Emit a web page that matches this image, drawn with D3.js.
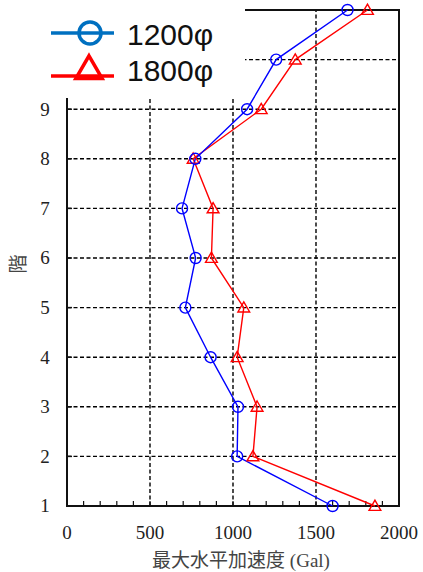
<!DOCTYPE html>
<html>
<head>
  <meta charset="utf-8">
  <script src="https://d3js.org/d3.v7.min.js"></script>
  <style>
    body { margin: 0; background: #fff; }
    .tick-label { font-family: "Liberation Serif", "DejaVu Serif", serif; font-size: 19px; fill: #222; }
    .axis-title { font-family: "Liberation Serif", "Noto Sans CJK JP", serif; font-size: 19px; fill: #444; }
    .legend-text { font-family: "Liberation Sans", Arial, sans-serif; font-size: 30px; fill: #111; }
  </style>
</head>
<body>
<script>
  // floors (階) and peak horizontal acceleration (Gal)
  var floors = [1, 2, 3, 4, 5, 6, 7, 8, 9, 10, 11];
  var accel1200 = [1600, 1025, 1030, 865, 713, 775, 693, 773, 1085, 1260, 1690];
  var accel1800 = [1855, 1120, 1145, 1025, 1065, 870, 880, 760, 1170, 1375, 1810];
  var floorLabels = [1, 2, 3, 4, 5, 6, 7, 8, 9];
  var xTicks = [0, 500, 1000, 1500, 2000];
  var seriesNames = ["1200\u03c6", "1800\u03c6"];

  var width = 423, height = 572;

  var x = d3.scaleLinear().domain([0, 2000]).range([67, 399]);
  var y = d3.scaleLinear().domain([1, 11]).range([506, 10]);

  var svg = d3.select("body").append("svg")
    .attr("width", width)
    .attr("height", height);

  // dashed grid
  var grid = svg.append("g")
    .attr("stroke", "#000")
    .attr("stroke-width", 1.4)
    .attr("stroke-dasharray", "4,2.5");

  grid.selectAll("line.h")
    .data(floors.slice(1))
    .enter().append("line")
    .attr("x1", x(0)).attr("x2", x(2000))
    .attr("y1", function(d) { return y(d); })
    .attr("y2", function(d) { return y(d); });

  grid.selectAll("line.v")
    .data([500, 1000, 1500])
    .enter().append("line")
    .attr("x1", function(d) { return x(d); })
    .attr("x2", function(d) { return x(d); })
    .attr("y1", y(1)).attr("y2", y(11));

  // minor ticks on x axis (inward)
  svg.append("g").selectAll("line")
    .data(d3.range(100, 2000, 100))
    .enter().append("line")
    .attr("x1", function(d) { return x(d); })
    .attr("x2", function(d) { return x(d); })
    .attr("y1", y(1)).attr("y2", y(1) - 5)
    .attr("stroke", "#111").attr("stroke-width", 1.2);

  // floor ticks on y axis (inward)
  svg.append("g").selectAll("line")
    .data(floorLabels)
    .enter().append("line")
    .attr("x1", x(0)).attr("x2", x(0) + 5)
    .attr("y1", function(d) { return y(d); })
    .attr("y2", function(d) { return y(d); })
    .attr("stroke", "#111").attr("stroke-width", 1.5);

  // frame
  svg.append("rect")
    .attr("x", x(0)).attr("y", y(11))
    .attr("width", x(2000) - x(0))
    .attr("height", y(1) - y(11))
    .attr("fill", "none")
    .attr("stroke", "#111")
    .attr("stroke-width", 2);

  // legend box hides top-left corner
  svg.append("rect")
    .attr("x", 0).attr("y", 0)
    .attr("width", 245).attr("height", 98)
    .attr("fill", "#fff");

  // tick labels
  svg.append("g").selectAll("text")
    .data(xTicks)
    .enter().append("text")
    .attr("class", "tick-label")
    .attr("x", function(d) { return x(d); })
    .attr("y", 539)
    .attr("text-anchor", "middle")
    .text(function(d) { return d; });

  svg.append("g").selectAll("text")
    .data(floorLabels)
    .enter().append("text")
    .attr("class", "tick-label")
    .attr("x", 45)
    .attr("y", function(d) { return y(d); })
    .attr("dy", "0.34em")
    .attr("text-anchor", "middle")
    .text(function(d) { return d; });

  // axis titles
  svg.append("text")
    .attr("class", "axis-title")
    .attr("x", 241).attr("y", 567)
    .attr("text-anchor", "middle")
    .text("最大水平加速度 (Gal)");

  svg.append("text")
    .attr("class", "axis-title")
    .attr("transform", "translate(25,264) rotate(-90)")
    .attr("text-anchor", "middle")
    .text("階");

  // series
  var line = d3.line()
    .x(function(d) { return x(d.v); })
    .y(function(d) { return y(d.f); });

  function rows(vals) {
    return floors.map(function(f, i) { return { f: f, v: vals[i] }; });
  }

  var data1200 = rows(accel1200), data1800 = rows(accel1800);

  svg.append("path")
    .datum(data1800)
    .attr("d", line)
    .attr("fill", "none")
    .attr("stroke", "#ff0000")
    .attr("stroke-width", 1.4);

  svg.append("path")
    .datum(data1200)
    .attr("d", line)
    .attr("fill", "none")
    .attr("stroke", "#0000ff")
    .attr("stroke-width", 1.4);

  var tri = d3.symbol().type(d3.symbolTriangle).size(60);

  svg.append("g").selectAll("path")
    .data(data1800)
    .enter().append("path")
    .attr("d", tri)
    .attr("transform", function(d) { return "translate(" + x(d.v) + "," + (y(d.f) + 1) + ")"; })
    .attr("fill", "none")
    .attr("stroke", "#ff0000")
    .attr("stroke-width", 1.4);

  svg.append("g").selectAll("circle")
    .data(data1200)
    .enter().append("circle")
    .attr("cx", function(d) { return x(d.v); })
    .attr("cy", function(d) { return y(d.f); })
    .attr("r", 5.5)
    .attr("fill", "none")
    .attr("stroke", "#0000ff")
    .attr("stroke-width", 1.4);

  // legend
  var legend = svg.append("g");
  legend.append("line")
    .attr("x1", 51).attr("x2", 114).attr("y1", 33).attr("y2", 33)
    .attr("stroke", "#0070c0").attr("stroke-width", 3.5);
  legend.append("circle")
    .attr("cx", 90).attr("cy", 33).attr("r", 11)
    .attr("fill", "none").attr("stroke", "#0070c0").attr("stroke-width", 3.5);
  legend.append("text")
    .attr("class", "legend-text")
    .attr("x", 127).attr("y", 45)
    .text(seriesNames[0]);

  legend.append("line")
    .attr("x1", 51).attr("x2", 114).attr("y1", 76).attr("y2", 76)
    .attr("stroke", "#ff0000").attr("stroke-width", 3.5);
  legend.append("path")
    .attr("d", d3.symbol().type(d3.symbolTriangle).size(300))
    .attr("transform", "translate(89,71)")
    .attr("fill", "none").attr("stroke", "#ff0000").attr("stroke-width", 3.5);
  legend.append("text")
    .attr("class", "legend-text")
    .attr("x", 127).attr("y", 81)
    .text(seriesNames[1]);
</script>
</body>
</html>
